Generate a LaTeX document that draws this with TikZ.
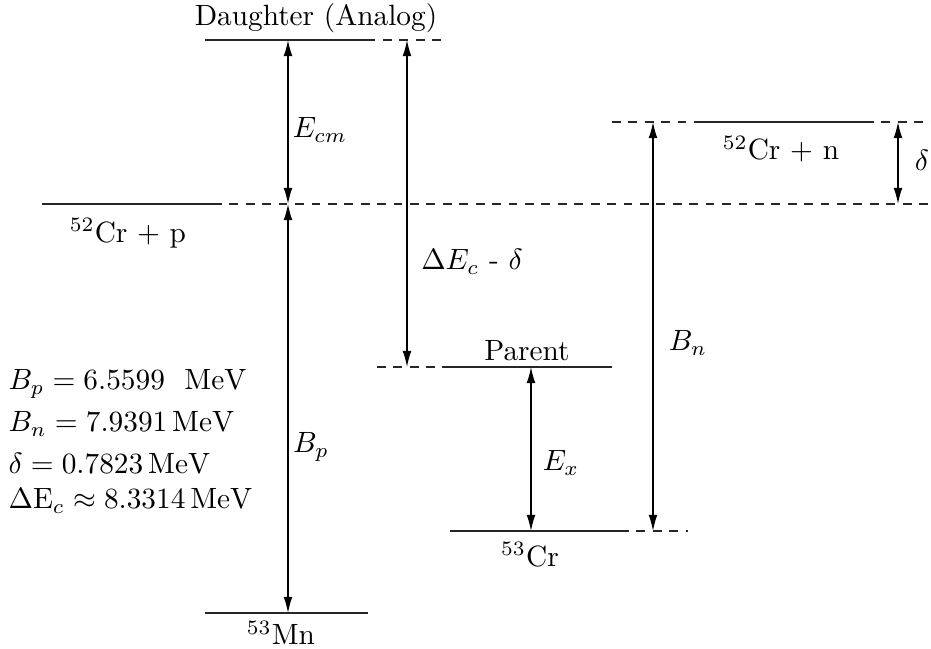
\documentclass[tikz,border=0pt]{standalone}
\usetikzlibrary{arrows.meta}
\begin{document}
\begin{tikzpicture}[x=0.341pt,y=-0.341pt,
  level/.style={line width=0.55pt, black!85},
  dlevel/.style={level, dash pattern=on 3pt off 2.6pt},
  gap/.style={{Latex[length=5.5pt,width=3pt]}-{Latex[length=5.5pt,width=3pt]}, line width=0.45pt},
  lbl/.style={inner sep=0pt}]
\useasboundingbox (0,0) rectangle (931,649);

% level coordinates
\coordinate (dL) at (205,40);  \coordinate (dM) at (375,40);  \coordinate (dD) at (383,40); \coordinate (dR) at (441,40);
\coordinate (pL) at (42,204);  \coordinate (pM) at (213,204); \coordinate (pR) at (931,204);
\coordinate (nL) at (612,122); \coordinate (nA) at (695,122); \coordinate (nB) at (865,122); \coordinate (nR) at (931,122);
\coordinate (aL) at (377,367); \coordinate (aM) at (442,367); \coordinate (aR) at (612,367);
\coordinate (cL) at (450,531); \coordinate (cM) at (620,531); \coordinate (cR) at (688,531);
\coordinate (mL) at (205,613); \coordinate (mR) at (368,613);

% levels
\draw[level] (dL) -- (dM);
\draw[dlevel] (dD) -- (dR);
\draw[level] (pL) -- (pM);
\draw[dlevel] (pM) -- (pR);
\draw[dlevel] (nL) -- (nA);
\draw[level] (nA) -- (nB);
\draw[dlevel] (nB) -- (nR);
\draw[dlevel] (aL) -- (aM);
\draw[level] (aM) -- (aR);
\draw[level] (cL) -- (cM);
\draw[dlevel] (cM) -- (cR);
\draw[level] (mL) -- (mR);

% arrow end points
\coordinate (a1t) at (288,40);  \coordinate (a1b) at (288,204);
\coordinate (a2t) at (288,204); \coordinate (a2b) at (288,613);
\coordinate (a3t) at (407,40);  \coordinate (a3b) at (407,367);
\coordinate (a4t) at (531,367); \coordinate (a4b) at (531,531);
\coordinate (a5t) at (653,122); \coordinate (a5b) at (653,531);
\coordinate (a6t) at (898,122); \coordinate (a6b) at (898,204);

\draw[gap] (a1t) -- (a1b);
\draw[gap] (a2t) -- (a2b);
\draw[gap] (a3t) -- (a3b);
\draw[gap] (a4t) -- (a4b);
\draw[gap] (a5t) -- (a5b);
\draw[gap] (a6t) -- (a6b);

% labels
\node[lbl] (tD) at (316,18) {Daughter (Analog)};
\node[lbl] (tEcm) at (320,130) {$E_{cm}$};
\node[lbl] (tP) at (128,233) {$^{52}$Cr + p};
\node[lbl] (tBp) at (311,447) {$B_p$};
\node[lbl] (tDE) at (472,262) {$\Delta E_c$ - $\delta$};
\node[lbl] (tPar) at (527,351) {Parent};
\node[lbl] (tEx) at (561,463) {$E_x$};
\node[lbl] (tCr) at (530,555) {$^{53}$Cr};
\node[lbl] (tBn) at (688,343) {$B_n$};
\node[lbl] (tN) at (781,149) {$^{52}$Cr + n};
\node[lbl] (tdel) at (922,160) {$\delta$};
\node[lbl] (tMn) at (281,633) {$^{53}$Mn};

\node[lbl,anchor=west] (v1) at (8,384) {$B_p = 6.5599\ \ \mathrm{MeV}$};
\node[lbl,anchor=west] (v2) at (8,424) {$B_n = 7.9391\,\mathrm{MeV}$};
\node[lbl,anchor=west] (v3) at (8,463) {$\delta = 0.7823\,\mathrm{MeV}$};
\node[lbl,anchor=west] (v4) at (8,501) {$\Delta\mathrm{E}_c \approx 8.3314\,\mathrm{MeV}$};
\end{tikzpicture}
\end{document}
